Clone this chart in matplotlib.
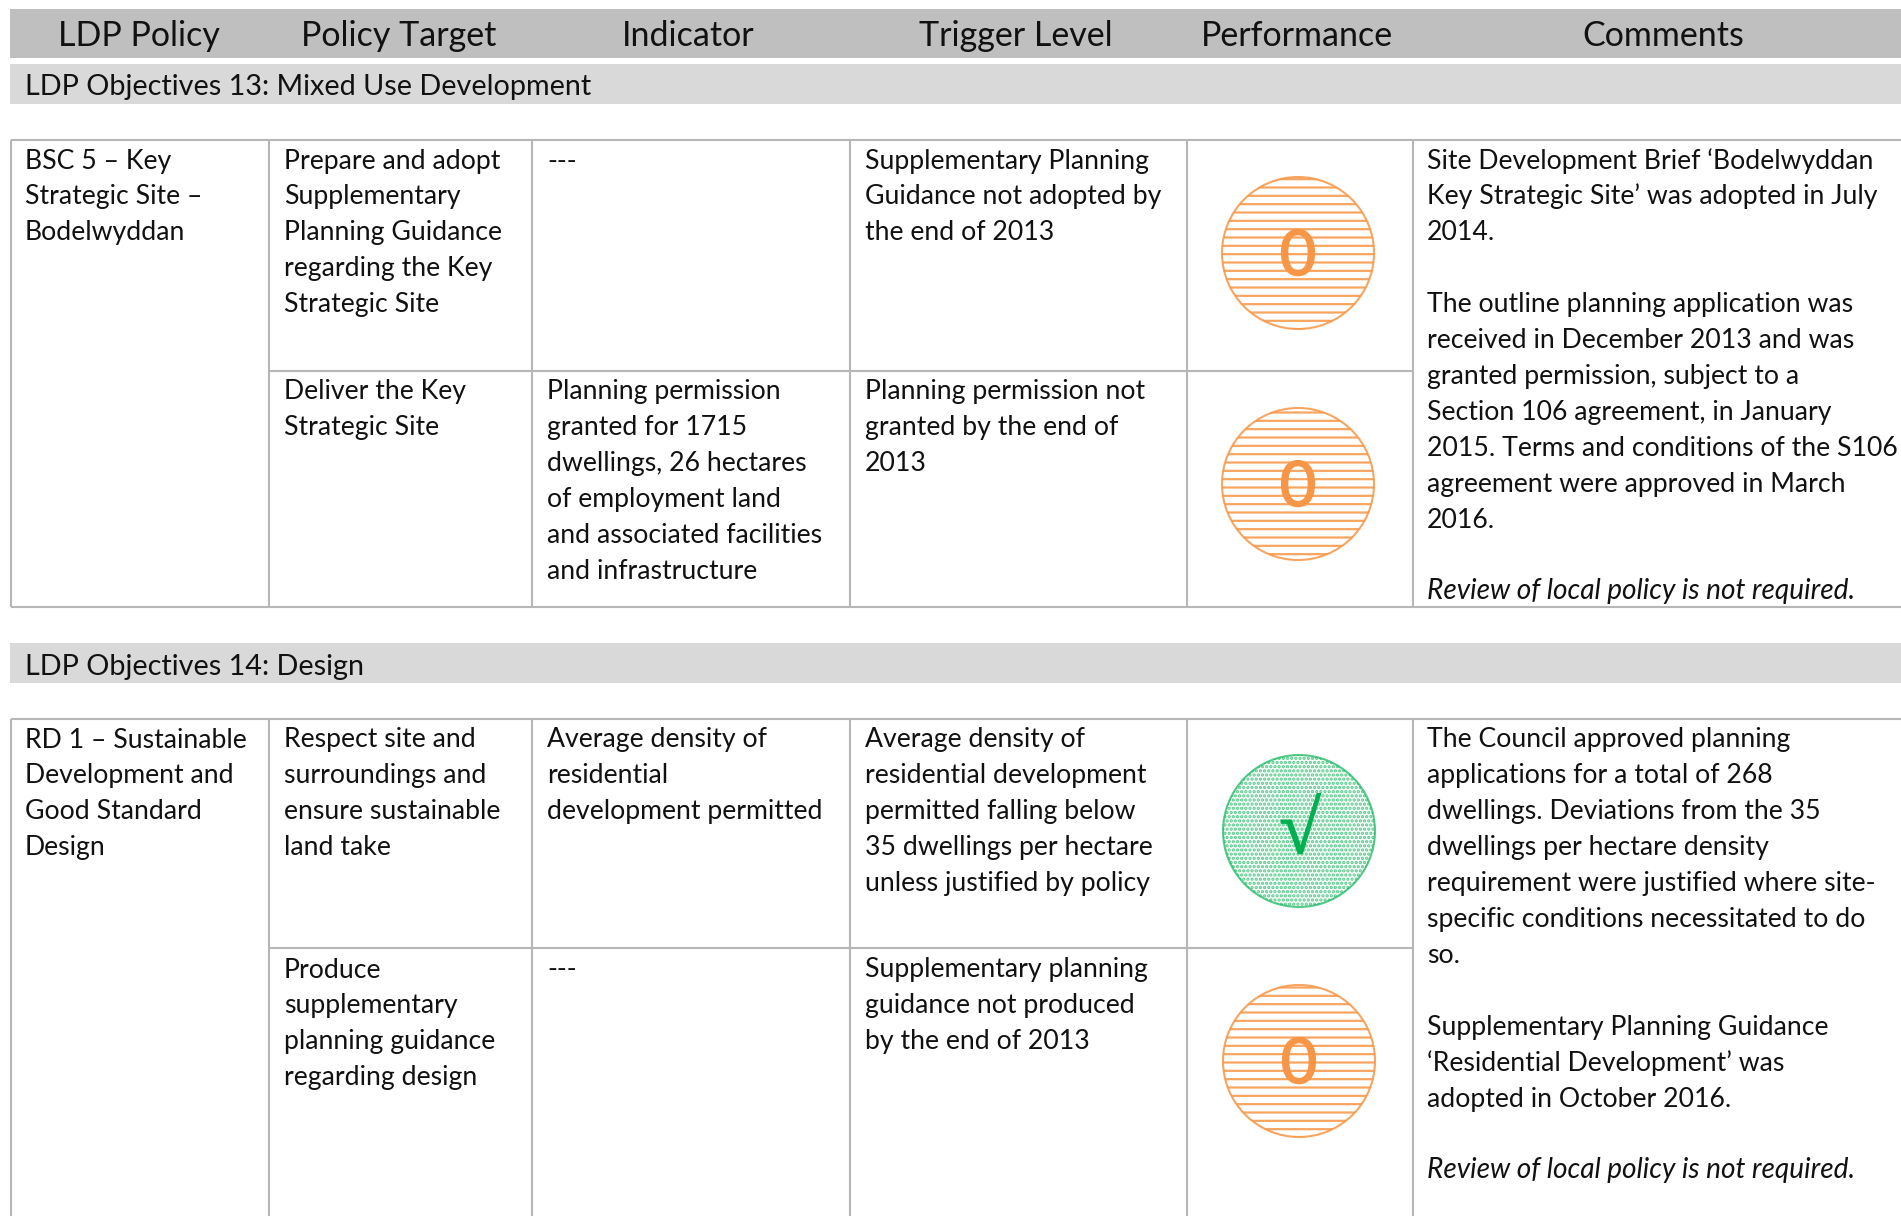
import matplotlib
matplotlib.use('Agg')
import matplotlib.pyplot as plt
import matplotlib.patheffects as pe
from matplotlib.patches import Circle, Rectangle

plt.rcParams['font.family'] = ['Lato', 'DejaVu Sans']

# ── Content ───────────────────────────────────────────────────────────────────
HEADERS = ['LDP Policy', 'Policy Target', 'Indicator', 'Trigger Level', 'Performance', 'Comments']
HEADER_X = [139, 399, 688, 1016, 1297, 1663]

OBJECTIVE_13 = 'LDP Objectives 13: Mixed Use Development'
OBJECTIVE_14 = 'LDP Objectives 14: Design'

POLICY_1 = ['BSC 5 – Key', 'Strategic Site –', 'Bodelwyddan']
TARGET_1A = ['Prepare and adopt', 'Supplementary', 'Planning Guidance', 'regarding the Key', 'Strategic Site']
INDICATOR_1A = ['---']
TRIGGER_1A = ['Supplementary Planning', 'Guidance not adopted by', 'the end of 2013']
TARGET_1B = ['Deliver the Key', 'Strategic Site']
INDICATOR_1B = ['Planning permission', 'granted for 1715', 'dwellings, 26 hectares', 'of employment land',
                'and associated facilities', 'and infrastructure']
TRIGGER_1B = ['Planning permission not', 'granted by the end of', '2013']
COMMENTS_1 = ['Site Development Brief ‘Bodelwyddan', 'Key Strategic Site’ was adopted in July', '2014.', '',
              'The outline planning application was', 'received in December 2013 and was',
              'granted permission, subject to a', 'Section 106 agreement, in January',
              '2015. Terms and conditions of the S106', 'agreement were approved in March', '2016.', '',
              'Review of local policy is not required.']

POLICY_2 = ['RD 1 – Sustainable', 'Development and', 'Good Standard', 'Design']
TARGET_2A = ['Respect site and', 'surroundings and', 'ensure sustainable', 'land take']
INDICATOR_2A = ['Average density of', 'residential', 'development permitted']
TRIGGER_2A = ['Average density of', 'residential development', 'permitted falling below',
              '35 dwellings per hectare', 'unless justified by policy']
TARGET_2B = ['Produce', 'supplementary', 'planning guidance', 'regarding design']
INDICATOR_2B = ['---']
TRIGGER_2B = ['Supplementary planning', 'guidance not produced', 'by the end of 2013']
COMMENTS_2 = ['The Council approved planning', 'applications for a total of 268',
              'dwellings. Deviations from the 35', 'dwellings per hectare density',
              'requirement were justified where site-', 'specific conditions necessitated to do', 'so.', '',
              'Supplementary Planning Guidance', '‘Residential Development’ was', 'adopted in October 2016.', '',
              'Review of local policy is not required.']

ITALIC_LINES = ['Review of local policy is not required.']

# ── Layout (pixels of the 1901x1216 image) ────────────────────────────────────
W, H = 1901, 1216
COL_X = [11, 269, 532, 850, 1187, 1413]
TEXT_X = [25, 284, 547, 865, 1427]
LINE_H = 35.9
BODY_SIZE = 19.2
ITALIC_SIZE = 20.2
GREY = '#b7b7b7'
ORANGE = '#f79646'
GREEN = '#00b050'

plt.rcParams['hatch.linewidth'] = 1.6

fig = plt.figure(figsize=(W / 100, H / 100), dpi=100)
ax = fig.add_axes([0, 0, 1, 1])
ax.set_xlim(0, W)
ax.set_ylim(H, 0)
ax.axis('off')


def band(y0, y1, color):
    ax.add_patch(Rectangle((10, y0), W - 10, y1 - y0, fc=color, ec='none'))


def cell(x, baseline, lines):
    for i, line in enumerate(lines):
        if line:
            italic = line in ITALIC_LINES
            ax.text(x, baseline + i * LINE_H, line, fontsize=ITALIC_SIZE if italic else BODY_SIZE,
                    style='italic' if italic else 'normal', ha='left', va='baseline', color='#111111')


def grid(top, mid, bottom):
    kw = dict(color=GREY, lw=1.5, solid_capstyle='butt')
    ax.plot([COL_X[0], W], [top, top], **kw)
    ax.plot([COL_X[1], COL_X[5]], [mid, mid], **kw)
    if bottom < H:
        ax.plot([COL_X[0], W], [bottom, bottom], **kw)
    for x in COL_X:
        ax.plot([x, x], [top, min(bottom, H)], **kw)


def marker(x, y, kind):
    if kind == 'amber':
        ax.add_patch(Circle((x, y), 76, fc='white', ec=ORANGE, lw=1.5, hatch='--', alpha=0.85))
        ax.text(x, y + 22, '0', fontsize=45, color=ORANGE, ha='center', va='baseline',
                path_effects=[pe.withStroke(linewidth=1.2, foreground=ORANGE)])
    else:
        ax.add_patch(Circle((x, y), 76, fc='#f2fbf5', ec=GREEN, lw=1.5, hatch='....', alpha=0.65))
        ax.text(x + 1, y + 22, '√', fontsize=54, color=GREEN, ha='center', va='baseline',
                family='Liberation Serif', weight='bold',
                path_effects=[pe.withStroke(linewidth=1.0, foreground=GREEN)])


# ── Bands ─────────────────────────────────────────────────────────────────────
band(9, 58, '#bfbfbf')
band(64, 104, '#d9d9d9')
band(643, 683, '#d9d9d9')

for label, x in zip(HEADERS, HEADER_X):
    ax.text(x, 46, label, fontsize=24.5, ha='center', va='baseline', color='#111111')
ax.text(25, 95, OBJECTIVE_13, fontsize=20.7, ha='left', va='baseline', color='#111111')
ax.text(25, 675, OBJECTIVE_14, fontsize=20.7, ha='left', va='baseline', color='#111111')

# ── Tables ────────────────────────────────────────────────────────────────────
grid(140, 371, 607)
grid(719, 948, H + 10)

cell(TEXT_X[0], 168.5, POLICY_1)
cell(TEXT_X[1], 168.5, TARGET_1A)
cell(TEXT_X[2], 168.5, INDICATOR_1A)
cell(TEXT_X[3], 168.5, TRIGGER_1A)
cell(TEXT_X[1], 399.5, TARGET_1B)
cell(TEXT_X[2], 399.5, INDICATOR_1B)
cell(TEXT_X[3], 399.5, TRIGGER_1B)
cell(TEXT_X[4], 168.5, COMMENTS_1)

cell(TEXT_X[0], 747.5, POLICY_2)
cell(TEXT_X[1], 747.5, TARGET_2A)
cell(TEXT_X[2], 747.5, INDICATOR_2A)
cell(TEXT_X[3], 747.5, TRIGGER_2A)
cell(TEXT_X[1], 977.5, TARGET_2B)
cell(TEXT_X[2], 977.5, INDICATOR_2B)
cell(TEXT_X[3], 977.5, TRIGGER_2B)
cell(TEXT_X[4], 747.5, COMMENTS_2)

marker(1298, 253, 'amber')
marker(1298, 484, 'amber')
marker(1299, 831, 'green')
marker(1299, 1061, 'amber')

fig.savefig('out.png', dpi=100, facecolor='white')
